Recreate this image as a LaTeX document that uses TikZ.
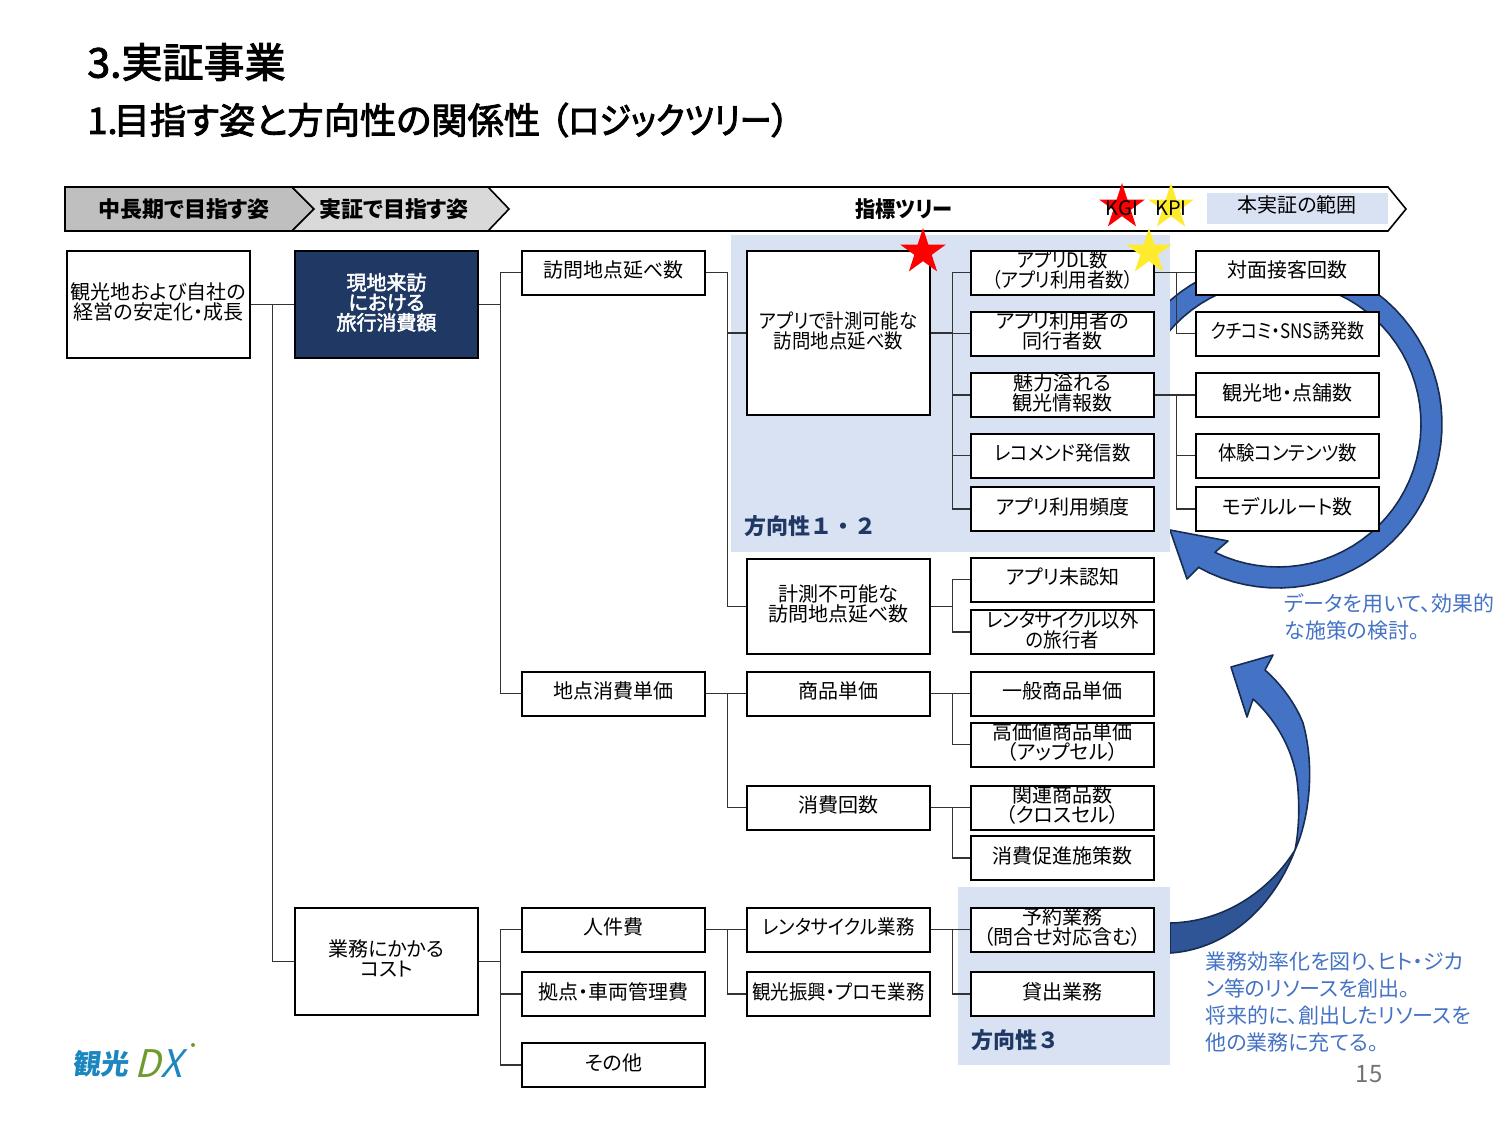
\documentclass[tikz,border=0pt]{standalone}
\usepackage{fontspec}
\setmainfont{Noto Sans CJK JP}[RawFeature=+palt]
\newfontfamily\headfont{Noto Sans CJK JP}[RawFeature=+palt, FakeBold=2.5]
\newfontfamily\headkana{Noto Sans CJK JP}[RawFeature=+palt, FakeBold=2.5, FakeStretch=0.88]
\newfontfamily\narrowfont{Noto Sans CJK JP}[RawFeature=+palt, FakeStretch=0.92]
\newfontfamily\thinfont{Noto Sans CJK JP}[RawFeature=+palt, FakeStretch=0.85]
\newfontfamily\widefont{Noto Sans CJK JP}
\usepackage{tikz}
\usetikzlibrary{arrows.meta,positioning,shapes.geometric,calc}
\definecolor{navybox}{HTML}{1F3864}
\definecolor{regionblue}{HTML}{D9E2F3}
\definecolor{arrowblue}{HTML}{4472C4}
\definecolor{arrowdark}{HTML}{2F5597}
\definecolor{arrowline}{HTML}{172C51}
\definecolor{logoblue}{HTML}{1C87BF}
\definecolor{logogreen}{HTML}{6F9A2E}
\definecolor{staryellow}{HTML}{FFEB2E}
\newcommand{\raiseline}{\\[-7pt]}
\begin{document}
\begin{tikzpicture}[x=0.5pt, y=-0.5pt,
  tbox/.style={draw, line width=1pt, fill=white, minimum width=91.5pt, minimum height=22pt, inner sep=0pt, align=center, font=\fontsize{10}{10}\selectfont},
  nbox/.style={tbox, font=\fontsize{10}{10}\selectfont\narrowfont},
  conn/.style={draw=black!80, line width=0.7pt},
  band/.style={draw=arrowline, line width=0.8pt, fill=arrowblue, line join=round},
  chev/.style={draw=black, line width=0.8pt},
  head/.style={font=\fontsize{11}{11}\selectfont\bfseries, inner sep=0pt},
  note/.style={anchor=north west, text=arrowblue, align=left, inner sep=0pt, font=\fontsize{10.5}{13.5}\selectfont},
  zone/.style={anchor=west, text=navybox, inner sep=0pt, font=\fontsize{11}{11}\selectfont\widefont\bfseries},
  gstar/.style={star, star points=5, star point ratio=2.618, inner sep=0pt, minimum size=24pt},
  tag/.style={inner sep=0pt, font=\fontsize{10}{10}\selectfont}]
\useasboundingbox (0,0) rectangle (1500,1125);
% title
\node[anchor=west, inner sep=0pt, font=\fontsize{20.5}{21}\selectfont\headfont] (title) at (87,62) {3.実証事業};
\node[anchor=west, inner sep=0pt, font=\fontsize{18.15}{18}\selectfont\headfont] (subtitle) at (87,120) {1.\hspace{-2pt}目指す姿と方向性の関係性\hspace{5pt}（{\headkana ロジックツリー}）};
% big arrows sit under the regions
\draw[band] plot[domain=215:476.2, samples=60] ({1278+143*cos(\x)},{424+143*sin(\x)})
  -- (1228,541) -- (1170,530) -- (1187,579) -- (1199,567)
  -- plot[domain=478.9:225, samples=60] ({1278+164*cos(\x)},{424+164*sin(\x)}) -- cycle;
\draw[band, fill=arrowdark] (1170,923) .. controls (1225,922) and (1270,890) .. (1295,850) .. controls (1270,915) and (1220,950) .. (1170,953) -- cycle;
\draw[band] (1295,850) .. controls (1308,822) and (1316,770) .. (1303,723) .. controls (1296,705) and (1282,685) .. (1265,670)
  -- (1273,655) -- (1231,667) -- (1247,717) -- (1253,699)
  .. controls (1272,716) and (1292,745) .. (1297,780) .. controls (1300,805) and (1299,830) .. (1295,850) -- cycle;
% regions
\fill[regionblue] (731,235) rectangle (1170,552);
\fill[regionblue] (958,887) rectangle (1170,1065);
% header strip
\draw[chev, fill=white] (65,187) -- (1388,187) -- (1406,209) -- (1388,231) -- (65,231) -- cycle;
\draw[chev, fill=black!25] (65,187) -- (292,187) -- (314,209) -- (292,231) -- (65,231) -- cycle;
\draw[chev, fill=black!15] (292,187) -- (488,187) -- (509,209) -- (488,231) -- (292,231) -- (314,209) -- cycle;
\node[head] (h1) at (184,209) {中長期で目指す姿};
\node[head] (h2) at (394,209) {実証で目指す姿};
\node[head, font=\fontsize{11}{11}\selectfont\narrowfont\bfseries] (h3) at (904,209) {指標ツリー};
\fill[regionblue] (1207,193) rectangle (1388,224);
\node[tag] (scope) at (1297,205) {本実証の範囲};
% columns
\node[tbox, minimum height=53.5pt] (goal) at (158.5,304.5) {観光地および自社の\\経営の安定化・成長\raiseline};
\node[tbox, minimum height=53.5pt, fill=navybox, text=white, font=\fontsize{10}{10}\selectfont\headfont] (visit) at (386.5,304.5) {現地来訪\\における\\旅行消費額\raiseline};
\node[tbox, minimum height=53.5pt] (cost) at (386.5,961.5) {業務にかかる\\コスト\raiseline};
\node[tbox] (visits) at (613.5,272.5) {訪問地点延べ数\raiseline};
\node[tbox] (spot) at (613.5,693.5) {地点消費単価\raiseline};
\node[tbox] (labor) at (613.5,929.5) {人件費\raiseline};
\node[tbox] (base) at (613.5,994) {拠点・車両管理費\raiseline};
\node[tbox] (other) at (613.5,1065) {その他\raiseline};
\node[nbox, minimum height=82pt] (appvisit) at (838.5,333) {アプリで計測可能な\\訪問地点延べ数\raiseline};
\node[tbox, minimum height=47.5pt] (offvisit) at (838.5,606.5) {計測不可能な\\訪問地点延べ数\raiseline};
\node[tbox] (price) at (838.5,693.5) {商品単価\raiseline};
\node[tbox] (times) at (838.5,807.5) {消費回数\raiseline};
\node[nbox] (rental) at (838.5,929.5) {レンタサイクル業務\raiseline};
\node[nbox] (promo) at (838.5,994) {観光振興・プロモ業務\raiseline};
\node[nbox] (dl) at (1062.5,272.5) {アプリDL数\\（アプリ利用者数）\raiseline};
\node[tbox] (comp) at (1062.5,333.5) {アプリ利用者の\\同行者数\raiseline};
\node[tbox] (info) at (1062.5,395) {魅力溢れる\\観光情報数\raiseline};
\node[nbox] (rec) at (1062.5,455.5) {レコメンド発信数\raiseline};
\node[tbox] (freq) at (1062.5,509) {アプリ利用頻度\raiseline};
\node[tbox] (unaware) at (1062.5,579.5) {アプリ未認知\raiseline};
\node[nbox] (nonrental) at (1062.5,632) {レンタサイクル以外\\の旅行者\raiseline};
\node[tbox] (general) at (1062.5,693.5) {一般商品単価\raiseline};
\node[tbox] (premium) at (1062.5,744.5) {高価値商品単価\\（アップセル）\raiseline};
\node[tbox] (related) at (1062.5,807.5) {関連商品数\\（クロスセル）\raiseline};
\node[tbox] (promote) at (1062.5,858) {消費促進施策数\raiseline};
\node[tbox] (reserve) at (1062.5,929.5) {予約業務\\（問合せ対応含む）\raiseline};
\node[tbox] (lending) at (1062.5,994) {貸出業務\raiseline};
\node[tbox] (face) at (1287.5,272.5) {対面接客回数\raiseline};
\node[tbox, font=\fontsize{10}{10}\selectfont\thinfont] (sns) at (1287.5,333.5) {クチコミ・SNS誘発数\raiseline};
\node[tbox] (place) at (1287.5,395) {観光地・点舗数\raiseline};
\node[nbox] (exper) at (1287.5,455.5) {体験コンテンツ数\raiseline};
\node[tbox] (route) at (1287.5,509) {モデルルート数\raiseline};
% connectors
\foreach \a/\b in {goal/visit,goal/cost,visit/visits,visit/spot,cost/labor,cost/base,cost/other,
  visits/appvisit,visits/offvisit,spot/price,spot/times,labor/rental,labor/promo,
  appvisit/dl,appvisit/comp,appvisit/info,appvisit/rec,appvisit/freq,offvisit/unaware,offvisit/nonrental,
  price/general,price/premium,times/related,times/promote,rental/reserve,rental/lending,
  dl/face,dl/sns,info/place,info/exper,info/route}
  \draw[conn] (\a.east) -- ++(21.5,0) |- (\b.west);
% stars
\node[gstar, fill=red] (kgi) at (1122,207) {};
\node[gstar, fill=staryellow] (kpi) at (1171,207) {};
\node[tag] (kgitext) at (1122,208) {KGI};
\node[tag] (kpitext) at (1171,208) {KPI};
\node[gstar, fill=red] (kgimark) at (923,252) {};
\node[gstar, fill=staryellow] (kpimark) at (1149,252) {};
% zone labels and notes
\node[zone] (zone12) at (744,526) {方向性１・２};
\node[zone] (zone3) at (971,1040) {方向性３};
\node[note] (note1) at (1284,593) {データを用いて、効果的\\な施策の検討。};
\node[note] (note2) at (1205,951) {業務効率化を図り、ヒト・ジカ\\ン等のリソースを創出。\\将来的に、創出したリソースを\\他の業務に充てる。};
\node[inner sep=0pt, text=black!55, font=\fontsize{12}{12}\selectfont] (page) at (1369,1074) {15};
% logo
\node[inner sep=0pt, text=logoblue, font=\fontsize{14}{14}\selectfont\bfseries, xslant=0.12] (logoa) at (102,1064) {観光};
\node[inner sep=0pt, font=\fontsize{19}{19}\selectfont, xslant=0.25] (logob) at (162,1064) {\textcolor{logogreen}{D}\textcolor{logoblue}{X}};
\fill[logogreen] (193,1045) circle (2);
\end{tikzpicture}
\end{document}
